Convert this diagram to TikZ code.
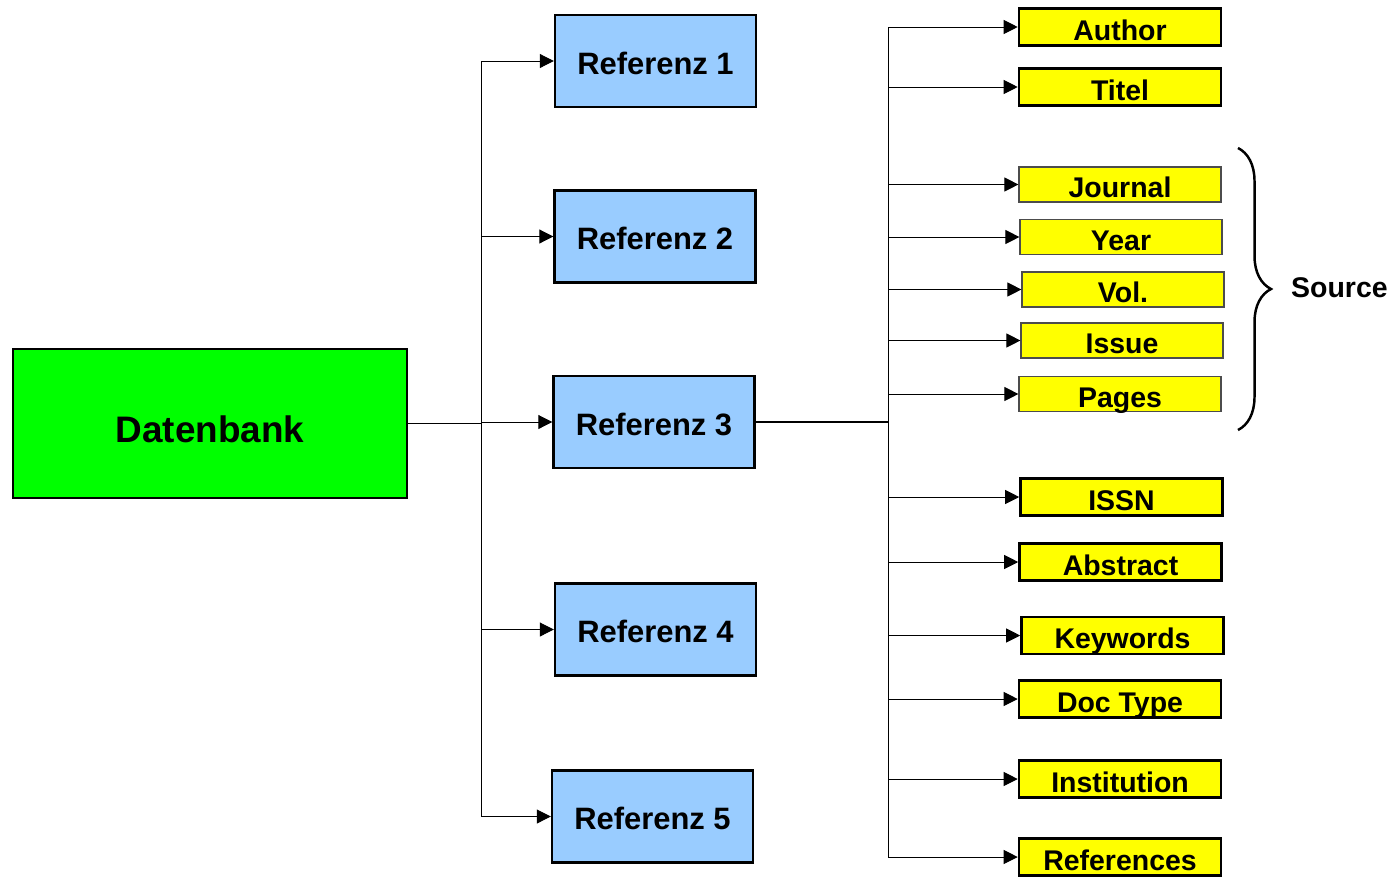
\documentclass[tikz,border=0pt]{standalone}
\usepackage{fontspec}
\setmainfont{Liberation Sans}
\usetikzlibrary{arrows.meta}
\usetikzlibrary{decorations.pathreplacing}
\definecolor{dbgreen}{HTML}{00FF00}
\definecolor{refblue}{HTML}{99CCFF}
\definecolor{fieldyellow}{HTML}{FFFF00}
\tikzset{
	box/.style = {
		rectangle,
		align=center,
		inner sep=0pt,
		text centered,
		font=\bfseries,
		draw=black,
		text depth=0pt
	},
	node_db/.style = {
		box,
		fill=dbgreen,
		line width=1.6pt,
		minimum width=7.88cm,
		minimum height=2.98cm,
		text height=0.74cm,
		font=\bfseries\fontsize{21}{24}\selectfont
	},
	node_ref/.style = {
		box,
		fill=refblue,
		line width=1.4pt,
		minimum width=4.02cm,
		minimum height=1.84cm,
		text height=0.52cm,
		font=\bfseries\fontsize{17.6}{20}\selectfont
	},
	node_field/.style = {
		box,
		fill=fieldyellow,
		line width=1.5pt,
		minimum width=4.04cm,
		minimum height=0.74cm,
		text height=0.53cm,
		font=\bfseries\fontsize{16.2}{18}\selectfont
	},
	node_field_thin/.style = {
		node_field,
		line width=0.7pt,
		draw=black!70,
		minimum height=0.70cm
	},
	trunk/.style = {line width=1.1pt},
	arr/.style = {line width=0.55pt, -{Triangle[length=0.28cm, width=0.28cm]}}
}
\begin{document}
\begin{tikzpicture}[x=0.02cm, y=-0.02cm]
\useasboundingbox (0,0) rectangle (1391,876);
% database and references
\node [node_db] (db) at (210,423.5) {Datenbank};
\node [node_ref] (ref1) at (655.5,61) {Referenz 1};
\node [node_ref] (ref2) at (655,236.5) {Referenz 2};
\node [node_ref] (ref3) at (654,422) {Referenz 3};
\node [node_ref] (ref4) at (655.5,629.5) {Referenz 4};
\node [node_ref] (ref5) at (652.5,816.5) {Referenz 5};
% fields of a reference
\node [node_field] (author) at (1120,27) {Author};
\node [node_field] (titel) at (1120,87) {Titel};
\node [node_field_thin] (journal) at (1120,184.5) {Journal};
\node [node_field_thin] (year) at (1121,237) {Year};
\node [node_field_thin] (vol) at (1123,289.5) {Vol.};
\node [node_field_thin] (issue) at (1122,340.5) {Issue};
\node [node_field_thin] (pages) at (1120,394) {Pages};
\node [node_field] (issn) at (1121.5,497) {ISSN};
\node [node_field] (abstract) at (1120.5,562) {Abstract};
\node [node_field] (keywords) at (1122.5,635.5) {Keywords};
\node [node_field] (doctype) at (1120,699) {Doc Type};
\node [node_field] (institution) at (1120,779) {Institution};
\node [node_field] (references) at (1120,857) {References};
% trunks
\coordinate (ltrunk) at (481,423.5);
\coordinate (rtrunk) at (888,422);
\draw [trunk] (db.east) -- (ltrunk);
\draw [trunk] (ref3.east) -- (rtrunk);
\foreach \r in {ref1,ref2,ref3,ref4,ref5}
	\draw [arr] (ltrunk) |- (\r.west);
\foreach \f in {author,titel,journal,year,vol,issue,pages,issn,abstract,keywords,doctype,institution,references}
	\draw [arr] (rtrunk) |- (\f.west);
% source brace
\coordinate (btop) at (1238,148);
\coordinate (bbot) at (1238,430);
\draw [line width=1.4pt, decorate, decoration={brace, amplitude=0.66cm, aspect=0.5}] (btop) -- (bbot);
\node [font=\bfseries\fontsize{16.2}{18}\selectfont, anchor=west] (source) at (1285,288) {Source};
\end{tikzpicture}
\end{document}
